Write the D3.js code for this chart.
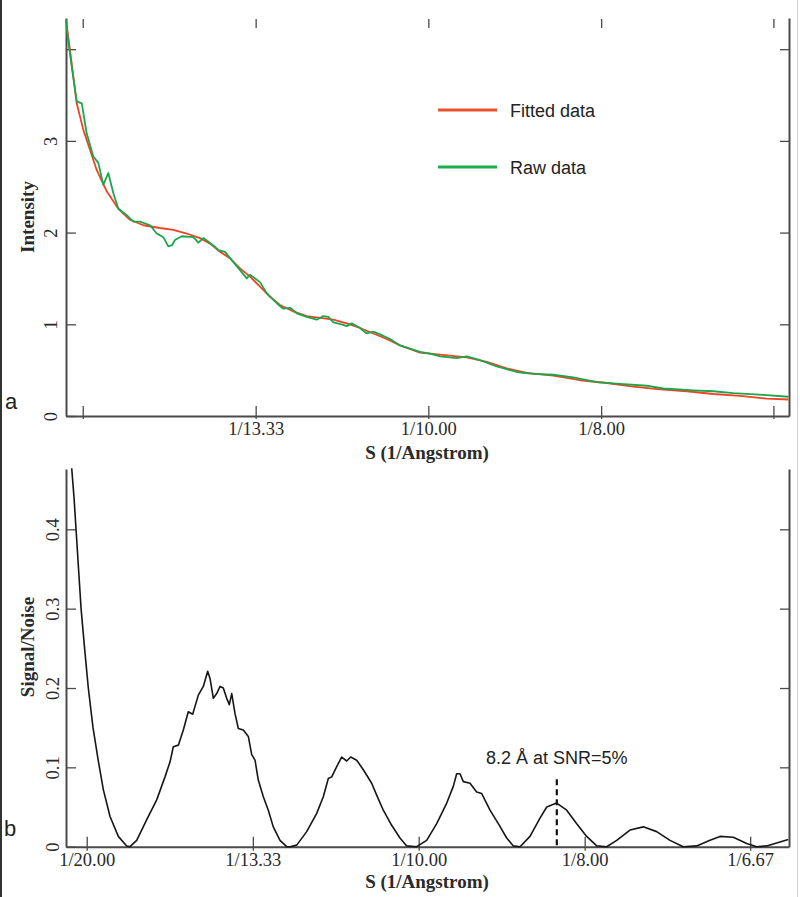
<!DOCTYPE html>
<html><head><meta charset="utf-8">
<script src="https://cdn.jsdelivr.net/npm/d3@7"></script>
<style>
html,body{margin:0;padding:0;background:#fff;}
svg{display:block;}
</style></head>
<body>
<script>
// ---------- DATA ----------
// Panel a: S (1/Angstrom) and intensity
const fittedS = [0.04758,0.04816,0.04913,0.05009,0.05106,0.05203,0.05347,0.05515,0.05684,0.05877,0.06118,0.06311,0.06505,0.06697,0.06842,0.06986,0.07131,0.07276,0.07420,0.07565,0.07710,0.07854,0.08047,0.08241,0.08433,0.08626,0.08819,0.09012,0.09204,0.09398,0.09591,0.09880,0.10169,0.10556,0.10845,0.11134,0.11424,0.11808,0.12195,0.12581,0.12966,0.13352,0.13738,0.14123,0.14510,0.14896,0.15208];
const fittedI = [4.32,3.99,3.41,3.12,2.90,2.68,2.45,2.26,2.14,2.08,2.05,2.03,1.99,1.94,1.88,1.79,1.72,1.61,1.52,1.41,1.30,1.21,1.14,1.09,1.07,1.05,1.01,0.96,0.90,0.84,0.77,0.69,0.67,0.64,0.59,0.52,0.47,0.44,0.39,0.36,0.32,0.29,0.27,0.24,0.22,0.19,0.18];
const rawS = [0.04758,0.04777,0.04841,0.04913,0.04986,0.05058,0.05153,0.05226,0.05298,0.05370,0.05443,0.05515,0.05637,0.05732,0.05829,0.05974,0.06071,0.06166,0.06238,0.06288,0.06335,0.06432,0.06600,0.06672,0.06745,0.06817,0.06889,0.06962,0.07059,0.07156,0.07276,0.07373,0.07420,0.07565,0.07662,0.07807,0.07902,0.07999,0.08096,0.08241,0.08385,0.08481,0.08553,0.08626,0.08747,0.08819,0.08892,0.09012,0.09109,0.09204,0.09301,0.09446,0.09591,0.09880,0.10025,0.10169,0.10411,0.10556,0.10748,0.10990,0.11279,0.11519,0.11808,0.12098,0.12436,0.12773,0.13160,0.13400,0.13834,0.14123,0.14413,0.14847,0.15208];
const rawI = [4.32,4.17,3.81,3.43,3.41,3.08,2.83,2.76,2.52,2.65,2.43,2.26,2.19,2.12,2.12,2.08,1.99,1.95,1.85,1.86,1.92,1.96,1.95,1.89,1.94,1.90,1.86,1.81,1.79,1.70,1.59,1.50,1.54,1.46,1.34,1.23,1.17,1.18,1.12,1.08,1.05,1.09,1.08,1.02,1.00,0.98,1.01,0.96,0.90,0.92,0.89,0.84,0.77,0.70,0.68,0.65,0.63,0.65,0.61,0.54,0.48,0.46,0.45,0.42,0.37,0.35,0.33,0.30,0.28,0.27,0.25,0.23,0.21];
// Panel b: signal/noise
const snrS = [0.04774,0.04809,0.04839,0.04877,0.04915,0.04968,0.05024,0.05095,0.05175,0.05250,0.05351,0.05476,0.05602,0.05652,0.05753,0.05904,0.06054,0.06179,0.06255,0.06304,0.06380,0.06455,0.06530,0.06596,0.06681,0.06756,0.06822,0.06857,0.06907,0.06958,0.07008,0.07057,0.07108,0.07148,0.07184,0.07233,0.07283,0.07358,0.07434,0.07485,0.07535,0.07584,0.07660,0.07735,0.07810,0.07911,0.08012,0.08062,0.08163,0.08313,0.08464,0.08563,0.08639,0.08690,0.08765,0.08840,0.08916,0.08976,0.09066,0.09166,0.09292,0.09367,0.09467,0.09593,0.09718,0.09819,0.09970,0.10120,0.10271,0.10422,0.10521,0.10572,0.10622,0.10672,0.10773,0.10873,0.10949,0.11074,0.11199,0.11325,0.11425,0.11526,0.11676,0.11827,0.11928,0.12078,0.12229,0.12380,0.12530,0.12681,0.12831,0.12982,0.13182,0.13383,0.13584,0.13785,0.13985,0.14187,0.14387,0.14538,0.14738,0.14940,0.15090,0.15241,0.15441,0.15566];
const snrV = [0.477,0.440,0.400,0.350,0.300,0.250,0.200,0.150,0.108,0.072,0.038,0.013,0.001,0,0.008,0.034,0.059,0.088,0.107,0.126,0.128,0.147,0.170,0.167,0.191,0.202,0.221,0.212,0.187,0.193,0.202,0.200,0.187,0.179,0.193,0.168,0.149,0.147,0.139,0.116,0.109,0.084,0.063,0.046,0.025,0.008,0,0,0.002,0.019,0.042,0.063,0.086,0.088,0.101,0.113,0.108,0.113,0.109,0.097,0.080,0.065,0.046,0.027,0.011,0.001,0,0.008,0.029,0.055,0.076,0.092,0.092,0.082,0.080,0.069,0.067,0.046,0.029,0.011,0.001,0,0.013,0.036,0.050,0.055,0.046,0.029,0.013,0.001,0,0.008,0.021,0.025,0.019,0.008,0,0.001,0.008,0.013,0.012,0.004,0,0.001,0.006,0.009];
// Ticks
const resTicks = [20, 13.33, 10, 8, 6.67];
const resLabels = ["1/20.00","1/13.33","1/10.00","1/8.00","1/6.67"];
const topLabelled = ["1/13.33","1/10.00","1/8.00"];
const intensityTicks = [0,1,2,3,4];
const intensityLabels = ["0","1","2","3",""];
const snrTicks = [0,0.1,0.2,0.3,0.4];
const snrLabels = ["0","0.1","0.2","0.3","0.4"];
const seriesNames = ["Fitted data","Raw data"];
const annotationS = 0.1208, annotationTop = 0.085;
const annotationText = "8.2 Å at SNR=5%";

// ---------- DRAW ----------
const W = 800, H = 897;
const serif = "'Liberation Serif','Times New Roman',serif";
const sans = "'Liberation Sans',Arial,sans-serif";
const axisCol = "#4a4a4a", textCol = "#2a2a2a";
const redCol = "#ee4426", greenCol = "#1ba64c";

const svg = d3.select("body").append("svg").attr("width", W).attr("height", H);
svg.append("rect").attr("x",0).attr("y",0).attr("width",2).attr("height",H).attr("fill","#333");
svg.append("rect").attr("x",797).attr("y",0).attr("width",1).attr("height",H).attr("fill","#d0d0d0");

function styleAxis(g){
  g.selectAll("path.domain").attr("stroke", axisCol).attr("stroke-width", 2);
  g.selectAll(".tick line").attr("stroke", axisCol).attr("stroke-width", 1.3);
  g.selectAll(".tick text").attr("fill", textCol).attr("font-family", serif).attr("font-size", 18.5);
}

// ===== Panel a =====
const xa = d3.scaleLinear().domain([0.04758, 0.15218]).range([66, 789]);
const ya = d3.scaleLinear().domain([0, 4.34]).range([416, 18]);
const tickVals = resTicks.map(r => 1/r);

const gxa = svg.append("g").attr("transform","translate(0,416)")
  .call(d3.axisBottom(xa).tickValues(tickVals).tickSizeInner(-10).tickSizeOuter(0)
    .tickFormat((d,i)=> topLabelled.includes(resLabels[i]) ? resLabels[i] : ""));
styleAxis(gxa);
gxa.selectAll(".tick line").attr("y1", 3);
gxa.selectAll(".tick text").attr("y", 19).attr("dy", 0);
const gta = svg.append("g").attr("transform","translate(0,19)")
  .call(d3.axisTop(xa).tickValues(tickVals).tickSizeInner(-9).tickSizeOuter(0).tickFormat(""));
gta.select(".domain").remove();
styleAxis(gta);
const gya = svg.append("g").attr("transform","translate(66,0)")
  .call(d3.axisLeft(ya).tickValues(intensityTicks).tickSizeInner(-10).tickSizeOuter(0)
    .tickFormat((d,i)=>intensityLabels[i]));
styleAxis(gya);
gya.selectAll(".tick text").attr("x",0).attr("dy",0).attr("text-anchor","middle")
  .attr("transform","translate(-9,0) rotate(-90)");
const gra = svg.append("g").attr("transform","translate(789,0)")
  .call(d3.axisLeft(ya).tickValues(intensityTicks.slice(1)).tickSizeInner(9).tickSizeOuter(0).tickFormat(""));
styleAxis(gra);

const lineA = d3.line().x(d=>xa(d[0])).y(d=>ya(d[1]));
svg.append("path").datum(fittedS.map((s,i)=>[s,fittedI[i]]))
  .attr("d", lineA).attr("fill","none").attr("stroke", redCol).attr("stroke-width",1.8).attr("stroke-linejoin","round");
svg.append("path").datum(rawS.map((s,i)=>[s,rawI[i]]))
  .attr("d", lineA).attr("fill","none").attr("stroke", greenCol).attr("stroke-width",1.8).attr("stroke-linejoin","round");

const leg = svg.append("g");
seriesNames.forEach((n,i)=>{
  const y = 110 + i*57;
  leg.append("line").attr("x1",438).attr("x2",497).attr("y1",y).attr("y2",y)
    .attr("stroke", i===0 ? "#e8532a" : "#1fae4e").attr("stroke-width",3);
  leg.append("text").attr("x",510).attr("y",y+7).text(n)
    .attr("font-family", sans).attr("font-size",18).attr("fill","#222");
});

svg.append("text").attr("transform","translate(34,217) rotate(-90)").attr("text-anchor","middle")
  .attr("font-family", serif).attr("font-weight","bold").attr("font-size",19).attr("fill",textCol).text("Intensity");
svg.append("text").attr("x",427).attr("y",459).attr("text-anchor","middle")
  .attr("font-family", serif).attr("font-weight","bold").attr("font-size",19).attr("fill",textCol).text("S (1/Angstrom)");
svg.append("text").attr("x",5).attr("y",409).attr("font-family", sans).attr("font-size",22).attr("fill","#222").text("a");

// ===== Panel b =====
const xb = d3.scaleLinear().domain([0.04688, 0.15577]).range([66, 789]);
const yb = d3.scaleLinear().domain([0, 0.476]).range([846.7, 469]);

const gxb = svg.append("g").attr("transform","translate(0,846.7)")
  .call(d3.axisBottom(xb).tickValues(tickVals).tickSizeInner(-10).tickSizeOuter(0)
    .tickFormat((d,i)=>resLabels[i]));
styleAxis(gxb);
gxb.selectAll(".tick line").attr("y1", 4);
gxb.selectAll(".tick text").attr("y", 19).attr("dy", 0);

const gyb = svg.append("g").attr("transform","translate(66,0)")
  .call(d3.axisLeft(yb).tickValues(snrTicks).tickSizeInner(-10).tickSizeOuter(0)
    .tickFormat((d,i)=>snrLabels[i]));
styleAxis(gyb);
gyb.selectAll(".tick text").attr("x",0).attr("dy",0).attr("text-anchor","middle")
  .attr("transform","translate(-7,0) rotate(-90)");
const grb = svg.append("g").attr("transform","translate(789,0)")
  .call(d3.axisLeft(yb).tickValues(snrTicks.slice(1)).tickSizeInner(9).tickSizeOuter(0).tickFormat(""));
styleAxis(grb);

const lineB = d3.line().x(d=>xb(d[0])).y(d=>yb(d[1]));
svg.append("path").datum(snrS.map((s,i)=>[s,snrV[i]]))
  .attr("d", lineB).attr("fill","none").attr("stroke","#161616").attr("stroke-width",1.6).attr("stroke-linejoin","round");

svg.append("line").attr("x1", xb(annotationS)).attr("x2", xb(annotationS))
  .attr("y1", yb(annotationTop)).attr("y2", yb(0))
  .attr("stroke","#111").attr("stroke-width",2.2).attr("stroke-dasharray","6,4");
svg.append("text").attr("x",486).attr("y",764).attr("font-family", sans).attr("font-size",18)
  .attr("fill","#222").text(annotationText);

svg.append("text").attr("transform","translate(34,647) rotate(-90)").attr("text-anchor","middle")
  .attr("font-family", serif).attr("font-weight","bold").attr("font-size",19).attr("fill",textCol).text("Signal/Noise");
svg.append("text").attr("x",427).attr("y",888).attr("text-anchor","middle")
  .attr("font-family", serif).attr("font-weight","bold").attr("font-size",19).attr("fill",textCol).text("S (1/Angstrom)");
svg.append("text").attr("x",4).attr("y",836).attr("font-family", sans).attr("font-size",22).attr("fill","#222").text("b");
</script>
</body></html>
